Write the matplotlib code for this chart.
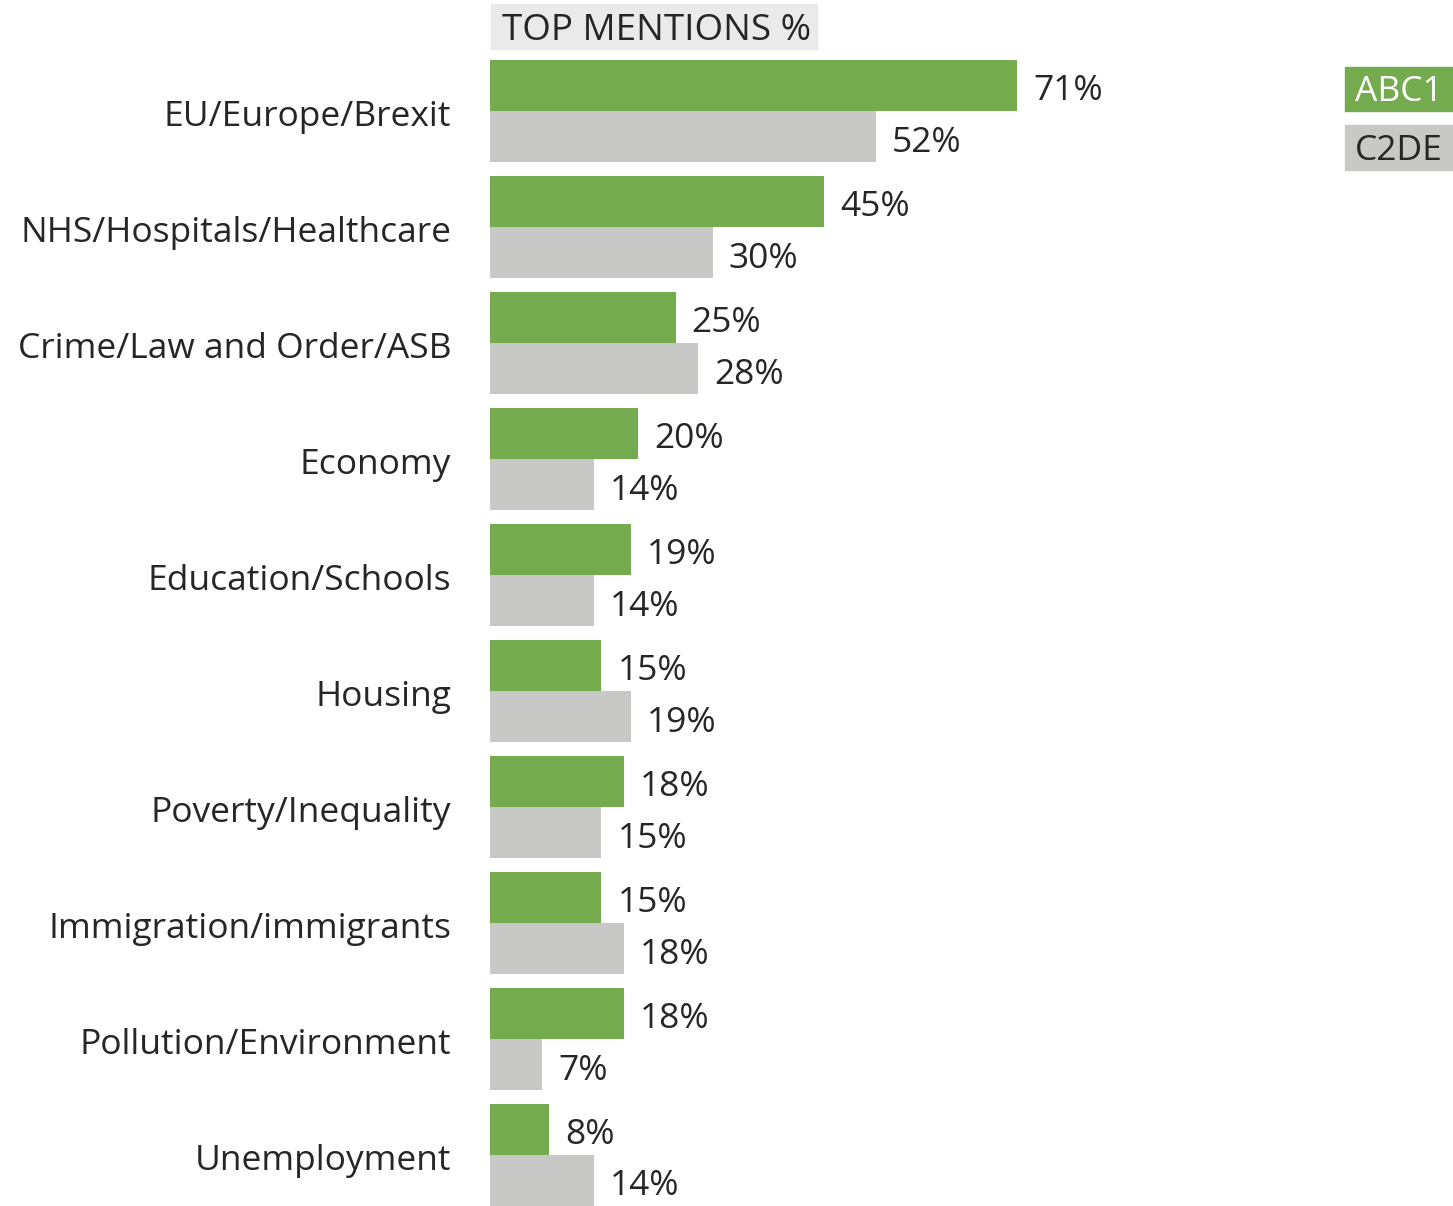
import matplotlib
matplotlib.use("Agg")
import matplotlib.pyplot as plt
import numpy as np

categories = ["EU/Europe/Brexit", "NHS/Hospitals/Healthcare", "Crime/Law and Order/ASB",
              "Economy", "Education/Schools", "Housing", "Poverty/Inequality",
              "Immigration/immigrants", "Pollution/Environment", "Unemployment"]
abc1 = [71, 45, 25, 20, 19, 15, 18, 15, 18, 8]
c2de = [52, 30, 28, 14, 14, 19, 15, 18, 7, 14]
series_names = ["ABC1", "C2DE"]
title = "TOP MENTIONS %"

GREEN = "#74ab4f"
GREY = "#c8c8c7"
TEXT = "#262626"
FONT = ["Open Sans", "DejaVu Sans"]
plt.rcParams['font.family'] = FONT

W, H = 1453, 1206
fig = plt.figure(figsize=(W / 100, H / 100), dpi=100)
ax = fig.add_axes([490 / W, 0, 1 - 490 / W, 1])
px_per_pct = (1017 - 490) / 71.0
ax.set_xlim(0, (W - 490) / px_per_pct)
pitch = 116.0
ax.set_ylim((H - 111) / pitch, (0 - 111) / pitch)
ax.axis("off")

bh = 51 / pitch
y = np.arange(len(categories))
ax.barh(y - bh / 2, abc1, height=bh, color=GREEN, linewidth=0)
ax.barh(y + bh / 2, c2de, height=bh, color=GREY, linewidth=0)

fs = 25.5
off = 16 / px_per_pct
dy = 6 / pitch
for i in range(len(categories)):
    ax.text(abc1[i] + off, y[i] - bh / 2 + dy, f"{abc1[i]}%", va="center", ha="left",
            fontsize=fs, color=TEXT)
    ax.text(c2de[i] + off, y[i] + bh / 2 + dy, f"{c2de[i]}%", va="center", ha="left",
            fontsize=fs, color=TEXT)
    ax.text(-39 / px_per_pct, y[i] + dy, categories[i], va="center", ha="right",
            fontsize=fs, color=TEXT, clip_on=False)

# title box
fig.patches.append(plt.Rectangle((491 / W, 1 - 49 / H), (817 - 491) / W, 45 / H,
                                 transform=fig.transFigure, color="#eaeaea", zorder=0))
fig.text(502 / W, 1 - 31 / H, title, va="center", ha="left", fontsize=26.5, color=TEXT)

# legend boxes
fig.patches.append(plt.Rectangle((1345 / W, 1 - 111 / H), 108 / W, 44 / H,
                                 transform=fig.transFigure, color=GREEN, zorder=0))
fig.text(1399 / W, 1 - 92 / H, series_names[0], va="center", ha="center", fontsize=fs, color="white")
fig.patches.append(plt.Rectangle((1345 / W, 1 - 170 / H), 108 / W, 45 / H,
                                 transform=fig.transFigure, color=GREY, zorder=0))
fig.text(1399 / W, 1 - 151 / H, series_names[1], va="center", ha="center", fontsize=fs, color=TEXT)

fig.savefig("out.png", dpi=100, facecolor="white")
